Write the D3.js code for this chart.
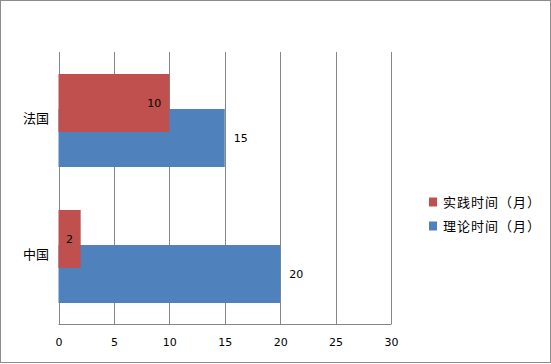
<!DOCTYPE html>
<html><head><meta charset="utf-8">
<script src="https://cdn.jsdelivr.net/npm/d3@7"></script>
<style>body{margin:0;background:#fff}svg{display:block}</style>
</head><body>
<svg id="c" width="551" height="364"></svg>
<script>
const categories = ["法国", "中国"];
const seriesNames = ["实践时间（月）", "理论时间（月）"];
const practice = [10, 2];
const theory = [15, 20];
const xTicks = [0, 5, 10, 15, 20, 25, 30];
const colors = ["#C0504D", "#4F81BD"];

const svg = d3.select("#c");
svg.append("rect").attr("x",0.5).attr("y",0.5).attr("width",550).attr("height",362)
  .attr("fill","#fff").attr("stroke","#8c8c8c").attr("stroke-width",1);

const L = 58.5, R = 391, T = 52, B = 324;
const x = d3.scaleLinear().domain([0,30]).range([L,R]);
const y = d3.scaleBand().domain(categories).range([T,B]);

const g = svg.append("g");
g.selectAll("line.grid").data(xTicks).join("line")
  .attr("x1",d=>Math.round(x(d))+0.5).attr("x2",d=>Math.round(x(d))+0.5)
  .attr("y1",T).attr("y2",B).attr("stroke","#868686").attr("stroke-width",1);
g.append("line").attr("x1",L).attr("x2",R+0.5).attr("y1",B+0.5).attr("y2",B+0.5)
  .attr("stroke","#868686");

const barH = 58;
const offs = [-46, -11];
const series = [practice, theory];

[1,0].forEach(si=>{
  g.selectAll("rect.s"+si).data(categories).join("rect")
    .attr("x",x(0)).attr("width",(d,i)=>x(series[si][i])-x(0))
    .attr("y",d=>y(d)+y.bandwidth()/2+offs[si]).attr("height",barH)
    .attr("fill",colors[si]);
});

const fontNum = "DejaVu Sans, sans-serif";
categories.forEach((c,i)=>{
  const v = practice[i];
  const w = x(v)-x(0);
  const cy = y(c)+y.bandwidth()/2+offs[0]+barH/2;
  let tx, anchor;
  if (w > 40) { tx = x(v)-8; anchor="end"; } else { tx = x(0)+w/2; anchor="middle"; }
  g.append("text").attr("x",tx).attr("y",cy).attr("dy","0.36em")
    .attr("text-anchor",anchor).attr("font-family",fontNum).attr("font-size",11)
    .attr("fill","#000").text(v);
});
categories.forEach((c,i)=>{
  const v = theory[i];
  const cy = y(c)+y.bandwidth()/2+offs[1]+barH/2;
  g.append("text").attr("x",x(v)+9).attr("y",cy).attr("dy","0.36em")
    .attr("font-family",fontNum).attr("font-size",11).attr("fill","#000").text(v);
});

g.selectAll("text.tick").data(xTicks).join("text")
  .attr("x",d=>x(d)+0.5).attr("y",342).attr("dy","0.36em").attr("text-anchor","middle")
  .attr("font-family",fontNum).attr("font-size",11).attr("fill","#000").text(d=>d);

g.selectAll("text.cat").data(categories).join("text")
  .attr("x",49).attr("y",d=>y(d)+y.bandwidth()/2-2).attr("dy","0.36em").attr("text-anchor","end")
  .attr("font-family","Noto Sans CJK SC, sans-serif").attr("font-size",13).attr("fill","#000").text(d=>d);

const lg = svg.append("g");
seriesNames.forEach((s,i)=>{
  const ly = 202 + i*24;
  lg.append("rect").attr("x",429).attr("y",ly-4.5).attr("width",8).attr("height",9).attr("fill",colors[i]);
  lg.append("text").attr("x",443).attr("y",ly).attr("dy","0.36em")
    .attr("font-family","Noto Sans CJK SC, sans-serif").attr("font-size",13)
    .attr("letter-spacing",1).attr("fill","#000").text(s);
});
</script>
</body></html>
